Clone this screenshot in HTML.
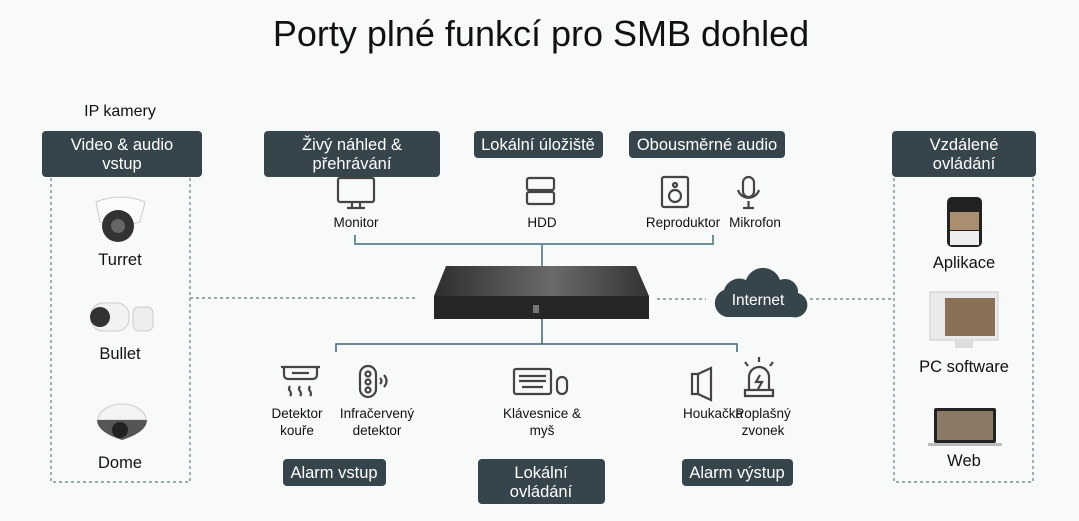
<!DOCTYPE html>
<html><head><meta charset="utf-8"><style>
html,body{margin:0;padding:0;background:#f8f9f9;}
svg{display:block;font-family:"Liberation Sans",sans-serif;}
</style></head><body>
<svg width="1079" height="521" viewBox="0 0 1079 521" xmlns="http://www.w3.org/2000/svg">
<rect width="1079" height="521" fill="#f8f9f9"/>
<text x="541" y="46" font-size="36" text-anchor="middle" fill="#111">Porty plné funkcí pro SMB dohled</text>
<text x="120" y="116" font-size="16" text-anchor="middle" fill="#111">IP kamery</text>

<g fill="#36454c">
<rect x="42" y="131" width="160" height="46" rx="4"/>
<rect x="264" y="131" width="176" height="46" rx="4"/>
<rect x="474" y="131" width="129" height="27" rx="4"/>
<rect x="629" y="131" width="156" height="27" rx="4"/>
<rect x="892" y="131" width="144" height="46" rx="4"/>
<rect x="283" y="459" width="103" height="27" rx="4"/>
<rect x="478" y="459" width="127" height="45" rx="4"/>
<rect x="682" y="459" width="111" height="27" rx="4"/>
</g>
<g fill="#fff" font-size="16.5" text-anchor="middle">
<text x="122" y="150">Video &amp; audio</text><text x="122" y="169">vstup</text>
<text x="352" y="150">Živý náhled &amp;</text><text x="352" y="169">přehrávání</text>
<text x="538" y="150">Lokální úložiště</text>
<text x="707" y="150">Obousměrné audio</text>
<text x="964" y="150">Vzdálené</text><text x="964" y="169">ovládání</text>
<text x="334" y="478">Alarm vstup</text>
<text x="541" y="478">Lokální</text><text x="541" y="497">ovládání</text>
<text x="737" y="478">Alarm výstup</text>
</g>

<g stroke="#5b8189" stroke-width="1.2" stroke-dasharray="3,3" fill="none">
<path d="M51 178 V482 H190 V178"/>
<path d="M894 178 V482 H1033 V178"/>
<path d="M190 298 H418"/>
<path d="M657 299 H706"/>
<path d="M810 299 H894"/>
</g>

<g stroke="#6a9298" stroke-width="2" fill="none">
<path d="M355 235 V244 H713 V235"/>
<path d="M542 244 V266"/>
</g>
<g stroke="#3b6670" stroke-width="1.5" fill="none">
<path d="M542 319 V344"/>
<path d="M336 352 V344 H737 V352"/>
</g>

<defs><linearGradient id="nv" x1="0" y1="0" x2="1" y2="0"><stop offset="0" stop-color="#2e2e2e"/><stop offset="0.55" stop-color="#6a6a6a"/><stop offset="1" stop-color="#333"/></linearGradient></defs>
<polygon points="446,266 636,266 649,296 434,296" fill="url(#nv)"/>
<rect x="434" y="296" width="215" height="23" fill="#262626"/>
<rect x="533" y="305" width="6" height="8" fill="#777"/>

<path d="M727 317 a14 14 0 0 1 -3 -27 a16 16 0 0 1 22 -10 a18 18 0 0 1 34 0 a13 13 0 0 1 18 13 a12 12 0 0 1 -6 24 z" fill="#36454c"/>
<text x="758" y="305" font-size="15.5" fill="#fff" text-anchor="middle">Internet</text>

<g stroke="#444" stroke-width="2.2" fill="none">
<rect x="338" y="178" width="36" height="24" rx="2"/>
<path d="M352 202 V207 M360 202 V207 M347 208 H365"/>
<rect x="527" y="178" width="27" height="12" rx="2"/><rect x="527" y="192" width="27" height="12" rx="2"/>
<rect x="662" y="177" width="26" height="30" rx="2"/><circle cx="675" cy="196" r="6"/><circle cx="675" cy="185" r="2"/>
<rect x="743" y="177" width="11" height="20" rx="5.5"/><path d="M738 190 a11 11 0 0 0 21 0 M748.5 201 V208 M743 208 H754"/>
</g>
<g font-size="13.5" fill="#111" text-anchor="middle">
<text x="356" y="227">Monitor</text>
<text x="542" y="227">HDD</text>
<text x="683" y="227">Reproduktor</text>
<text x="755" y="227">Mikrofon</text>
</g>

<g stroke="#444" stroke-width="2.2" fill="none">
<path d="M281 367 H320 M284 367 V375 a4 4 0 0 0 4 4 H313 a4 4 0 0 0 4 -4 V367 M292 373 H309" />
<path d="M290 386 q-2 3 0 5 q2 3 0 5 M300 386 q-2 3 0 5 q2 3 0 5 M310 386 q-2 3 0 5 q2 3 0 5"/>
<rect x="360" y="366" width="16" height="31" rx="8"/><circle cx="368" cy="374" r="2.5"/><circle cx="368" cy="382" r="2.5"/><circle cx="368" cy="390" r="2.5"/>
<path d="M380 378 q3 3 0 6 M384 375 q5 6 0 12"/>
<rect x="514" y="369" width="37" height="25" rx="2"/><path d="M519 376 H546 M519 381 H546 M522 387 H543"/>
<rect x="557" y="377" width="10" height="17" rx="5"/>
<path d="M692 374 H698 V394 H692 Z M698 374 L711 368 V400 L698 394"/>
<path d="M749 390 V377 a10 10 0 0 1 20 0 V390 M745 390 H773 V396 H745 Z M759 362 V357 M748 366 L745 362 M770 366 L773 362 M760 375 l-4 7 h6 l-4 7"/>
</g>
<g font-size="13.5" fill="#111" text-anchor="middle">
<text x="297" y="418">Detektor</text><text x="297" y="435">kouře</text>
<text x="377" y="418">Infračervený</text><text x="377" y="435">detektor</text>
<text x="542" y="418">Klávesnice &amp;</text><text x="542" y="435">myš</text>
<text x="713" y="418">Houkačka</text>
<text x="763" y="418">Poplašný</text><text x="763" y="435">zvonek</text>
</g>

<path d="M96 202 Q120 192 145 202 L140 222 Q120 228 100 222 Z" fill="#fbfbfb" stroke="#ccc"/>
<circle cx="118" cy="226" r="16" fill="#333"/><circle cx="118" cy="226" r="7" fill="#666"/>
<rect x="91" y="303" width="38" height="28" rx="12" fill="#f2f2f2" stroke="#ccc"/>
<circle cx="100" cy="317" r="10" fill="#333"/>
<rect x="133" y="307" width="20" height="24" rx="6" fill="#eee" stroke="#ccc"/>
<path d="M98 420 a24 16 0 0 1 48 0 Z" fill="#f4f4f4" stroke="#ccc"/>
<path d="M97 420 h50 q0 12 -25 20 q-25 -8 -25 -20 Z" fill="#555"/>
<circle cx="120" cy="430" r="8" fill="#222"/>
<g font-size="16.5" fill="#111" text-anchor="middle">
<text x="120" y="265">Turret</text>
<text x="120" y="359">Bullet</text>
<text x="120" y="468">Dome</text>
<text x="964" y="268">Aplikace</text>
<text x="964" y="372">PC software</text>
<text x="964" y="466">Web</text>
</g>

<rect x="947" y="197" width="35" height="50" rx="5" fill="#222"/>
<rect x="950" y="212" width="29" height="18" fill="#a98f70"/>
<rect x="950" y="231" width="29" height="14" fill="#eee"/>
<rect x="930" y="292" width="68" height="48" fill="#e8eaec" stroke="#ccc"/>
<rect x="945" y="298" width="50" height="38" fill="#8a7055"/>
<rect x="955" y="340" width="18" height="8" fill="#ddd"/>
<rect x="934" y="408" width="62" height="35" rx="2" fill="#222"/>
<rect x="937" y="411" width="56" height="29" fill="#8a7a66"/>
<rect x="928" y="443" width="74" height="3" fill="#bbb"/>
</svg>
</body></html>
